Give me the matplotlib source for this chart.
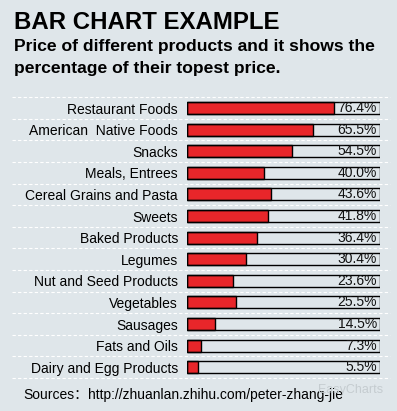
import matplotlib
matplotlib.use('Agg')
import matplotlib.pyplot as plt

categories = ['Restaurant Foods', 'American  Native Foods', 'Snacks', 'Meals, Entrees',
              'Cereal Grains and Pasta', 'Sweets', 'Baked Products', 'Legumes',
              'Nut and Seed Products', 'Vegetables', 'Sausages', 'Fats and Oils',
              'Dairy and Egg Products']
values = [76.4, 65.5, 54.5, 40.0, 43.6, 41.8, 36.4, 30.4, 23.6, 25.5, 14.5, 7.3, 5.5]

bg = '#dfe6ea'
red = '#e8262a'
plt.rcParams['font.family'] = ['Liberation Sans', 'Noto Sans CJK SC', 'DejaVu Sans']

W, H = 397, 411
fig = plt.figure(figsize=(W / 100, H / 100), dpi=100)
fig.patch.set_facecolor(bg)

ax = fig.add_axes([187 / W, 1 - 378 / H, (380 - 187) / W, (378 - 97.2) / H])
ax.set_facecolor(bg)
n = len(categories)
pos = list(range(n))
bh = 0.55
ax.barh(pos, [100] * n, height=bh, color=bg, edgecolor='none')
ax.barh(pos, values, height=bh, color=red, edgecolor='black', linewidth=1)
ax.barh(pos, [100] * n, height=bh, color='none', edgecolor='black', linewidth=1)
for p, v in zip(pos, values):
    ax.text(98.5, p, '%.1f%%' % v, ha='right', va='center', fontsize=10, color='#111111')

ax.set_xlim(0, 100)
ax.set_ylim(n - 0.5, -0.5)
ax.set_yticks(pos)
ax.set_yticklabels(categories, fontsize=10)
ax.tick_params(axis='y', length=0, pad=6.5)
ax.set_xticks([])
for s in ax.spines.values():
    s.set_visible(False)

# dashed white separators between rows
x0 = (12 - 187) * 100 / 193
x1 = (390 - 187) * 100 / 193
for k in range(n + 1):
    ax.plot([x0, x1], [k - 0.5, k - 0.5], color='white', lw=0.8, ls=(0, (3, 2)), clip_on=False)

fig.text(14 / W, 1 - 11 / H, 'BAR CHART EXAMPLE', fontsize=17.3, fontweight='bold', va='top')
fig.text(14 / W, 1 - 39 / H, 'Price of different products and it shows the',
         fontsize=12.6, fontweight='bold', va='top')
fig.text(14 / W, 1 - 61 / H, 'percentage of their topest price.', fontsize=12.6, fontweight='bold', va='top')
fig.text(23 / W, 1 - 395 / H, 'Sources\uff1ahttp://zhuanlan.zhihu.com/peter-zhang-jie',
         fontsize=10, va='center')
fig.text(383 / W, 1 - 390 / H, 'EasyCharts', fontsize=9, color='#c5ccd0', va='center', ha='right')

fig.savefig('out.png', dpi=100, facecolor=bg)
